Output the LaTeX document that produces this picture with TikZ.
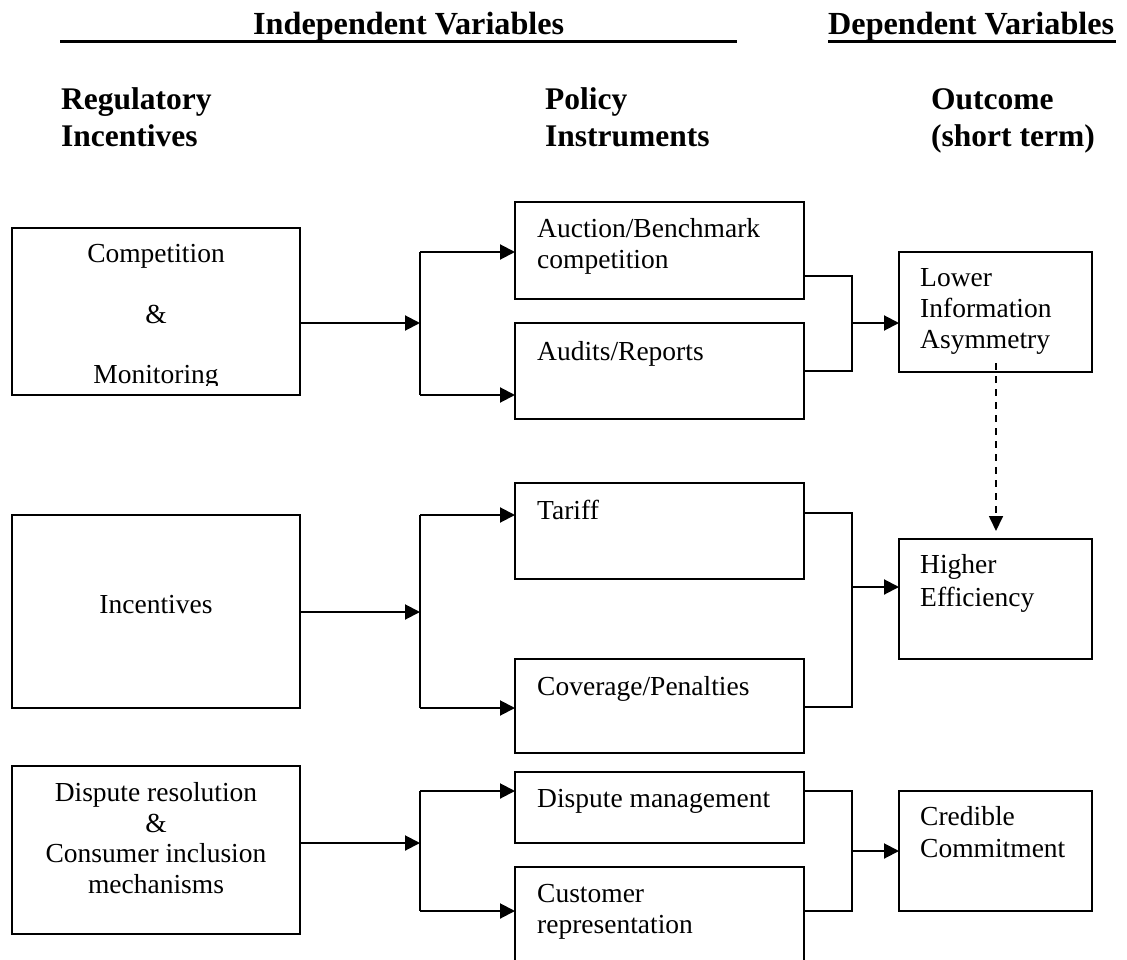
\documentclass[tikz,border=0pt]{standalone}
\usepackage{fontspec}
\setmainfont{Liberation Serif}
\usetikzlibrary{arrows.meta}
\begin{document}
\begin{tikzpicture}[x=1pt,y=-1pt,
  box/.style={draw, line width=2pt, rectangle, outer sep=0pt, inner sep=0pt, anchor=north west},
  body/.style={font=\fontsize{27.5}{31}\selectfont, inner sep=0pt, anchor=base west},
  bodyc/.style={font=\fontsize{27.5}{31}\selectfont, inner sep=0pt, anchor=base},
  head/.style={font=\fontsize{32.2}{37}\selectfont\bfseries, inner sep=0pt, anchor=base west},
  subhead/.style={font=\fontsize{31.5}{37}\selectfont\bfseries, inner sep=0pt, anchor=base west},
  conn/.style={line width=2pt},
  arr/.style={line width=2pt, -{Triangle[length=15pt,width=15pt]}},
  dasharr/.style={line width=1.7pt, dash pattern=on 7pt off 6pt, -{Triangle[length=15pt,width=14pt]}},
  rule/.style={line width=3.5pt}
]
\clip (0,0) rectangle (1127,960);
\fill[white] (0,0) rectangle (1127,960);

% headers
\node[head] (hind) at (253,35) {Independent Variables};
\node[head] (hdep) at (828,35) {Dependent Variables};
\draw[rule] (60,41.3) -- (737,41.3);
\draw[line width=3pt] (828,41.5) -- (1116,41.5);
\node[subhead] (hreg1) at (61,110) {Regulatory};
\node[subhead] (hreg2) at (61,147) {Incentives};
\node[subhead] (hpol1) at (545,110) {Policy};
\node[subhead] (hpol2) at (545,147) {Instruments};
\node[subhead] (hout1) at (931,110) {Outcome};
\node[subhead] (hout2) at (931,147) {(short term)};

% boxes
\node[box, minimum width=288pt, minimum height=167pt] (comp) at (12,228) {};
\node[box, minimum width=288pt, minimum height=193pt] (inc) at (12,515) {};
\node[box, minimum width=288pt, minimum height=168pt] (disp) at (12,766) {};
\node[box, minimum width=289pt, minimum height=97pt] (auc) at (515,202) {};
\node[box, minimum width=289pt, minimum height=96pt] (aud) at (515,323) {};
\node[box, minimum width=289pt, minimum height=96pt] (tar) at (515,483) {};
\node[box, minimum width=289pt, minimum height=94pt] (cov) at (515,659) {};
\node[box, minimum width=289pt, minimum height=71pt] (dm) at (515,772) {};
\node[box, minimum width=289pt, minimum height=130pt] (cust) at (515,867) {};
\node[box, minimum width=193pt, minimum height=120pt] (low) at (899,252) {};
\node[box, minimum width=193pt, minimum height=120pt] (high) at (899,539) {};
\node[box, minimum width=193pt, minimum height=120pt] (cred) at (899,791) {};

% texts
\node[bodyc] (tcomp) at (156,262) {Competition};
\node[bodyc] (tamp1) at (156,323) {\&};
\begin{scope}
  \clip (12,228) rectangle (300,385);
  \node[bodyc] (tmon) at (156,383) {Monitoring};
\end{scope}
\node[body] (tauc1) at (537,237) {Auction/Benchmark};
\node[body] (tauc2) at (537,268) {competition};
\node[body] (taud) at (537,360) {Audits/Reports};
\node[body] (tlow1) at (920,286) {Lower};
\node[body] (tlow2) at (920,317) {Information};
\node[body] (tlow3) at (920,348) {Asymmetry};
\node[body] (ttar) at (537,519) {Tariff};
\node[bodyc] (tinc) at (156,613) {Incentives};
\node[body] (tcov) at (537,695) {Coverage/Penalties};
\node[body] (thigh1) at (920,573) {Higher};
\node[body] (thigh2) at (920,606) {Efficiency};
\node[bodyc] (tdisp1) at (156,801) {Dispute resolution};
\node[bodyc] (tdisp2) at (156,832) {\&};
\node[bodyc] (tdisp3) at (156,862) {Consumer inclusion};
\node[bodyc] (tdisp4) at (156,893) {mechanisms};
\node[body] (tdm) at (537,807) {Dispute management};
\node[body] (tcust1) at (537,902) {Customer};
\node[body] (tcust2) at (537,933) {representation};
\node[body] (tcred1) at (920,825) {Credible};
\node[body] (tcred2) at (920,857) {Commitment};

% row 1 connectors
\coordinate (b1) at (420,323);
\coordinate (b1t) at (420,252);
\coordinate (b1b) at (420,395);
\draw[arr] (comp.east |- b1) -- (b1);
\draw[conn] (b1t) -- (b1b);
\draw[arr] (b1t) -- (auc.west |- b1t);
\draw[arr] (b1b) -- (aud.west |- b1b);
\coordinate (j1t) at (852,276);
\coordinate (j1b) at (852,371);
\coordinate (j1) at (852,323);
\draw[conn] (auc.east |- j1t) -- (j1t) -- (j1b) -- (aud.east |- j1b);
\draw[arr] (j1) -- (low.west |- j1);

% row 2 connectors
\coordinate (b2) at (420,612);
\coordinate (b2t) at (420,515);
\coordinate (b2b) at (420,708);
\draw[arr] (inc.east |- b2) -- (b2);
\draw[conn] (b2t) -- (b2b);
\draw[arr] (b2t) -- (tar.west |- b2t);
\draw[arr] (b2b) -- (cov.west |- b2b);
\coordinate (j2t) at (852,513);
\coordinate (j2b) at (852,707);
\coordinate (j2) at (852,587);
\draw[conn] (tar.east |- j2t) -- (j2t) -- (j2b) -- (cov.east |- j2b);
\draw[arr] (j2) -- (high.west |- j2);

% row 3 connectors
\coordinate (b3) at (420,843);
\coordinate (b3t) at (420,791);
\coordinate (b3b) at (420,911);
\draw[arr] (disp.east |- b3) -- (b3);
\draw[conn] (b3t) -- (b3b);
\draw[arr] (b3t) -- (dm.west |- b3t);
\draw[arr] (b3b) -- (cust.west |- b3b);
\coordinate (j3t) at (852,791);
\coordinate (j3b) at (852,911);
\coordinate (j3) at (852,851);
\draw[conn] (dm.east |- j3t) -- (j3t) -- (j3b) -- (cust.east |- j3b);
\draw[arr] (j3) -- (cred.west |- j3);

% dashed link
\coordinate (ds) at (996,363);
\coordinate (de) at (996,531);
\draw[dasharr] (ds) -- (de);
\end{tikzpicture}
\end{document}
